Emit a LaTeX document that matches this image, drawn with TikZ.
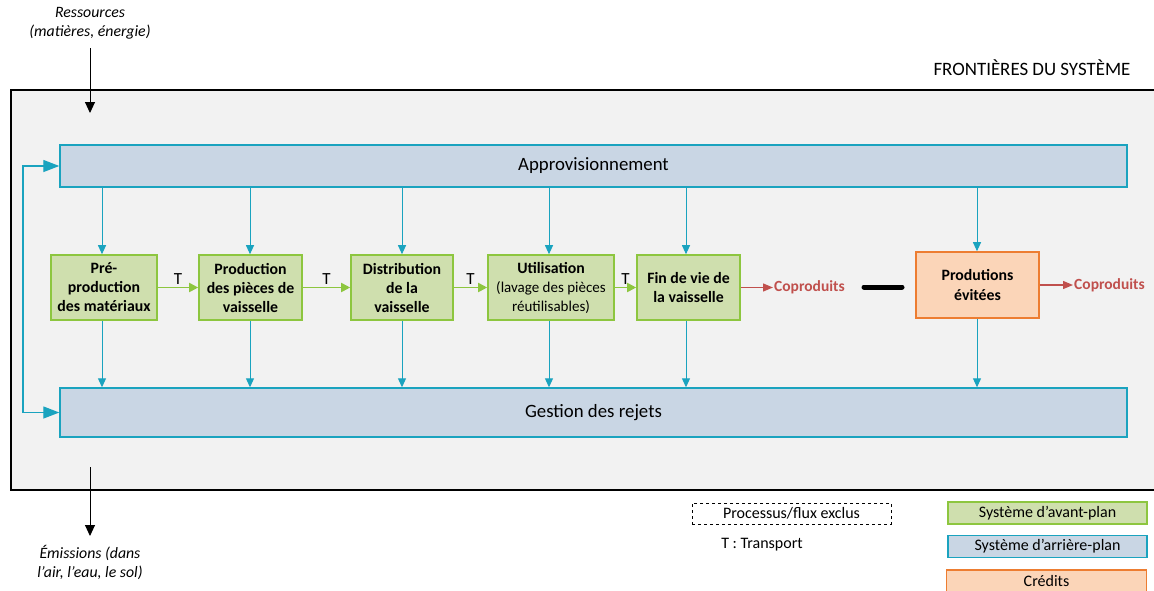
\documentclass[tikz,border=0pt]{standalone}
\usepackage{fontspec}
\setmainfont{Carlito}
\usetikzlibrary{arrows.meta}
\definecolor{tealc}{HTML}{1AA3BF}
\definecolor{bluef}{HTML}{C9D6E4}
\definecolor{greenl}{HTML}{8DC63F}
\definecolor{greenf}{HTML}{CFDFAE}
\definecolor{orangel}{HTML}{ED7D31}
\definecolor{orangef}{HTML}{FBD5B8}
\definecolor{redc}{HTML}{C0504D}
\definecolor{bgc}{HTML}{F2F2F2}
\tikzset{
  fg/.style={draw=greenl, fill=greenf, line width=1.6pt, inner sep=0pt, align=center, font=\fontsize{15.8}{19}\selectfont\bfseries},
  bg/.style={draw=tealc, fill=bluef, line width=1.4pt, inner sep=0pt, font=\fontsize{18.8}{20}\selectfont},
  cred/.style={draw=orangel, fill=orangef, line width=1.6pt, inner sep=0pt, align=center, font=\fontsize{15.8}{20}\selectfont\bfseries},
  tarrow/.style={draw=tealc, line width=1pt, -{Triangle[length=9pt,width=8pt]}},
  garrow/.style={draw=greenl, line width=1.8pt, -{Triangle[length=9pt,width=9pt]}},
  rarrow/.style={draw=redc, line width=1.3pt, -{Triangle[length=10pt,width=8pt]}},
  karrow/.style={draw=black, line width=0.9pt, -{Triangle[length=11pt,width=10pt]}},
  tlabel/.style={font=\fontsize{17}{19}\selectfont, inner sep=1pt},
  coprod/.style={text=redc, font=\fontsize{15.5}{18}\selectfont\bfseries, inner sep=1pt},
  note/.style={font=\fontsize{15.8}{19.5}\selectfont\itshape, align=center},
  legbox/.style={line width=1.3pt, inner sep=0pt, minimum width=199pt, minimum height=22pt, font=\fontsize{16}{18}\selectfont}
}
\begin{document}
\begin{tikzpicture}[x=1pt,y=-1pt]
\useasboundingbox (0,0) rectangle (1154,590);
% system boundary
\draw[fill=bgc, line width=1.5pt] (11,90) rectangle (1170,490);
\node[font=\fontsize{18.9}{20}\selectfont] (front) at (1032,68) {FRONTIÈRES DU SYSTÈME};
% resources / emissions
\node[note] (res) at (90,23.5) {Ressources\\(matières, énergie)};
\coordinate (resA) at (90,48);
\coordinate (resB) at (90,113);
\draw[karrow] (resA) -- (resB);
\coordinate (emA) at (90,467);
\coordinate (emB) at (90,536);
\draw[karrow] (emA) -- (emB);
\node[note] (emi) at (90,562.5) {Émissions (dans\\l’air, l’eau, le sol)};
% background boxes
\node[bg, minimum width=1067pt, minimum height=42pt] (appro) at (593.5,166) {Approvisionnement};
\node[bg, minimum width=1067pt, minimum height=49pt] (gest) at (593.5,412.5) {Gestion des rejets};
\coordinate (loopL) at (23,290);
\draw[draw=tealc, line width=1.3pt, {Triangle[length=16pt,width=12pt]}-{Triangle[length=16pt,width=12pt]}] (appro.west) -| (loopL) |- (gest.west);
% foreground boxes
\node[fg, minimum width=106pt, minimum height=65pt] (p1) at (104,287.5) {Pré-\\production\\des matériaux};
\node[fg, minimum width=103pt, minimum height=65pt] (p2) at (250.5,287.5) {Production\\des pièces de\\vaisselle};
\node[fg, minimum width=102pt, minimum height=65pt] (p3) at (402,287.5) {Distribution\\de la\\vaisselle};
\node[fg, minimum width=126pt, minimum height=65pt] (p4) at (551,287.5) {Utilisation\\{\mdseries\fontsize{15}{18}\selectfont(lavage des pièces}\\{\mdseries\fontsize{15}{18}\selectfont réutilisables)}};
\node[fg, minimum width=103pt, minimum height=65pt] (p5) at (688.5,287.5) {Fin de vie de\\la vaisselle};
\node[cred, minimum width=123pt, minimum height=66pt] (av) at (977.5,285) {Produtions\\évitées};
% transport arrows
\draw[garrow] (p1) -- node[tlabel, above=1pt] {T} (p2);
\draw[garrow] (p2) -- node[tlabel, above=1pt] {T} (p3);
\draw[garrow] (p3) -- node[tlabel, above=1pt] {T} (p4);
\draw[garrow] (p4) -- node[tlabel, above=1pt] {T} (p5);
% vertical teal arrows
\foreach \n/\x in {p1/102,p2/250,p3/402,p4/549,p5/686,av/977}{
  \draw[tarrow] (appro.south -| \x,0) -- (\n.north -| \x,0);
  \draw[tarrow] (\n.south -| \x,0) -- (gest.north -| \x,0);
}
% coproducts
\node[coprod, anchor=west] (cp1) at (773,287.5) {Coproduits};
\draw[rarrow] (p5.east) -- (cp1.west);
\node[coprod, anchor=west] (cp2) at (1073,285) {Coproduits};
\draw[rarrow] (av.east) -- (cp2.west);
\coordinate (minA) at (864,287);
\coordinate (minB) at (902,287);
\draw[line width=5pt, line cap=round] (minA) -- (minB);
% legend
\node[legbox, draw, dashed, line width=1pt, minimum width=199pt, minimum height=21pt] (lex) at (791.5,513.5) {Processus/flux exclus};
\node[font=\fontsize{16}{18}\selectfont] (ltr) at (762,545) {T : Transport};
\node[legbox, draw=greenl, fill=greenf] (lg) at (1047.5,513) {Système d’avant-plan};
\node[legbox, draw=tealc, fill=bluef] (lb) at (1047.5,546.5) {Système d’arrière-plan};
\node[legbox, draw=orangel, fill=orangef, minimum width=200pt] (lo) at (1046.5,581) {Crédits};
\end{tikzpicture}
\end{document}
